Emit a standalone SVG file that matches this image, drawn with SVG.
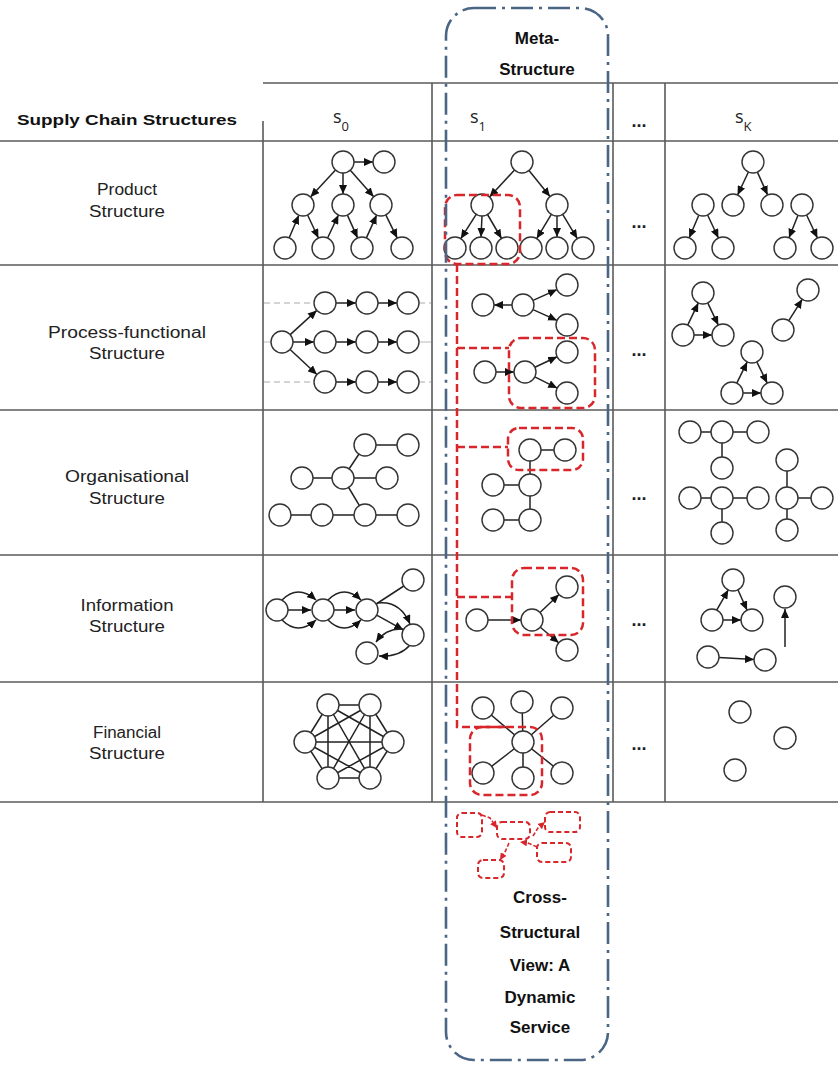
<svg xmlns="http://www.w3.org/2000/svg" width="838" height="1068" viewBox="0 0 838 1068">
<style>
.bg{fill:#fff}
.tl{stroke:#5a5a5a;stroke-width:1.6;fill:none}
.n{fill:#fff;stroke:#333;stroke-width:1.4}
.e{stroke:#222;stroke-width:1.5;fill:none}
.a{stroke:#222;stroke-width:1.5;fill:none;marker-end:url(#ah)}
.r{stroke:#d8262b;stroke-width:2.5;fill:none;stroke-dasharray:8 4}
.rs{stroke:#d8262b;stroke-width:2;fill:none;stroke-dasharray:5 3}
.ra{stroke:#d8262b;stroke-width:1.6;fill:none;stroke-dasharray:4 2;marker-end:url(#rh)}
.gd{stroke:#aaa;stroke-width:1.2;stroke-dasharray:6 4;fill:none}
.gl{stroke:#bbb;stroke-width:1;fill:none}
.meta{stroke:#4b6584;stroke-width:2.6;fill:none;stroke-dasharray:22 6 3 6}
.lbl{font-family:"Liberation Sans",Arial,sans-serif;font-size:16px;fill:#222;text-anchor:middle}
.hd{font-family:"Liberation Sans",Arial,sans-serif;font-weight:bold;font-size:15px;fill:#111}
.bt{font-family:"Liberation Sans",Arial,sans-serif;font-weight:bold;font-size:17px;fill:#111;text-anchor:middle}
.sv{font-family:"Open Sans","Liberation Sans",sans-serif;font-size:18px;fill:#222}
.dots{font-family:"Liberation Sans",Arial,sans-serif;font-weight:bold;font-size:18px;fill:#222;text-anchor:middle}
</style>
<defs>
<marker id="ah" markerUnits="userSpaceOnUse" markerWidth="10" markerHeight="8" refX="9" refY="4" orient="auto"><path d="M0,0 L9,4 L0,8 z" fill="#111"/></marker>
<marker id="rh" markerUnits="userSpaceOnUse" markerWidth="8" markerHeight="7" refX="7" refY="3.5" orient="auto"><path d="M0,0 L7,3.5 L0,7 z" fill="#d8262b"/></marker>
</defs>
<rect class="bg" x="0" y="0" width="838" height="1068"/>

<g id="table">
<line class="tl" x1="263" y1="83" x2="838" y2="83"/>
<line class="tl" x1="0" y1="141" x2="838" y2="141"/>
<line class="tl" x1="0" y1="265" x2="838" y2="265"/>
<line class="tl" x1="0" y1="410" x2="838" y2="410"/>
<line class="tl" x1="0" y1="555" x2="838" y2="555"/>
<line class="tl" x1="0" y1="682" x2="838" y2="682"/>
<line class="tl" x1="0" y1="802" x2="838" y2="802"/>
<line class="tl" x1="263" y1="121" x2="263" y2="802"/>
<line class="tl" x1="432" y1="83" x2="432" y2="802"/>
<line class="tl" x1="613" y1="83" x2="613" y2="802"/>
<line class="tl" x1="665" y1="83" x2="665" y2="802"/>
</g>

<g id="headers">
<text class="hd" x="17" y="125" textLength="220" lengthAdjust="spacingAndGlyphs">Supply Chain  Structures</text>
<text class="sv" x="333" y="123">s<tspan font-size="13" dy="8">0</tspan></text>
<text class="sv" x="470" y="123">s<tspan font-size="13" dy="8">1</tspan></text>
<text class="sv" x="735" y="123">s<tspan font-size="13" dy="8">K</tspan></text>
<text class="dots" x="639" y="127">...</text>
</g>

<g id="row-labels">
<text class="lbl" x="127" y="195" textLength="60" lengthAdjust="spacingAndGlyphs">Product</text>
<text class="lbl" x="127" y="217" textLength="76" lengthAdjust="spacingAndGlyphs">Structure</text>
<text class="lbl" x="127" y="338" textLength="158" lengthAdjust="spacingAndGlyphs">Process-functional</text>
<text class="lbl" x="127" y="359" textLength="76" lengthAdjust="spacingAndGlyphs">Structure</text>
<text class="lbl" x="127" y="482" textLength="124" lengthAdjust="spacingAndGlyphs">Organisational</text>
<text class="lbl" x="127" y="504" textLength="76" lengthAdjust="spacingAndGlyphs">Structure</text>
<text class="lbl" x="127" y="611" textLength="93" lengthAdjust="spacingAndGlyphs">Information</text>
<text class="lbl" x="127" y="632" textLength="76" lengthAdjust="spacingAndGlyphs">Structure</text>
<text class="lbl" x="127" y="738" textLength="68" lengthAdjust="spacingAndGlyphs">Financial</text>
<text class="lbl" x="127" y="759" textLength="76" lengthAdjust="spacingAndGlyphs">Structure</text>
</g>

<g id="ellipses">
<text class="dots" x="639" y="228">...</text>
<text class="dots" x="639" y="356">...</text>
<text class="dots" x="639" y="500">...</text>
<text class="dots" x="639" y="626">...</text>
<text class="dots" x="639" y="750">...</text>
</g>

<g id="connectors">
<!-- row1 s0 -->
<line class="a" x1="354" y1="162" x2="373" y2="162"/>
<line class="a" x1="335.5" y1="170.1" x2="310.5" y2="196.9"/>
<line class="a" x1="343" y1="173" x2="343" y2="194"/>
<line class="a" x1="350.3" y1="170.2" x2="373.7" y2="196.8"/>
<line class="a" x1="289.2" y1="237.8" x2="298.8" y2="215.2"/>
<line class="a" x1="307.6" y1="215" x2="318.4" y2="238"/>
<line class="a" x1="327.6" y1="238" x2="338.4" y2="215"/>
<line class="a" x1="347.4" y1="215.1" x2="357.6" y2="237.9"/>
<line class="a" x1="366.4" y1="237.9" x2="376.6" y2="215.1"/>
<line class="a" x1="385.8" y1="214.9" x2="397.2" y2="238.1"/>
<!-- row1 s1 -->
<line class="a" x1="514.5" y1="170.1" x2="489.5" y2="196.9"/>
<line class="a" x1="529" y1="170.5" x2="550" y2="196.5"/>
<line class="a" x1="476.2" y1="214.3" x2="460.8" y2="238.7"/>
<line class="a" x1="482" y1="216" x2="481" y2="237"/>
<line class="a" x1="487.5" y1="214.5" x2="501.5" y2="238.5"/>
<line class="a" x1="551.3" y1="214.4" x2="536.7" y2="238.6"/>
<line class="a" x1="557" y1="216" x2="557" y2="237"/>
<line class="a" x1="562.7" y1="214.4" x2="577.3" y2="238.6"/>
<!-- row1 sK -->
<line class="a" x1="748.4" y1="172" x2="737.6" y2="195"/>
<line class="a" x1="757.4" y1="172.1" x2="767.6" y2="194.9"/>
<line class="a" x1="698.8" y1="215.2" x2="689.2" y2="237.8"/>
<line class="a" x1="707.6" y1="215" x2="718.4" y2="238"/>
<line class="a" x1="798" y1="215.2" x2="789" y2="237.8"/>
<line class="a" x1="806.6" y1="215" x2="817.4" y2="238"/>
<!-- row2 s0 -->
<line class="gd" x1="264" y1="303" x2="314" y2="303"/>
<line class="gd" x1="419" y1="303" x2="431" y2="303"/>
<line class="gl" x1="264" y1="342" x2="271" y2="342"/>
<line class="gl" x1="419" y1="342" x2="431" y2="342"/>
<line class="gd" x1="264" y1="382" x2="314" y2="382"/>
<line class="gd" x1="419" y1="382" x2="431" y2="382"/>
<line class="a" x1="290.2" y1="334.6" x2="316.8" y2="310.4"/>
<line class="a" x1="293" y1="342" x2="314" y2="342"/>
<line class="a" x1="290.1" y1="349.5" x2="316.9" y2="374.5"/>
<line class="a" x1="336" y1="303" x2="356" y2="303"/>
<line class="a" x1="378" y1="303" x2="397" y2="303"/>
<line class="a" x1="336" y1="342" x2="356" y2="342"/>
<line class="a" x1="378" y1="342" x2="397" y2="342"/>
<line class="a" x1="336" y1="382" x2="356" y2="382"/>
<line class="a" x1="378" y1="382" x2="397" y2="382"/>
<!-- row2 s1 -->
<line class="a" x1="512" y1="305" x2="494" y2="305"/>
<line class="a" x1="533" y1="300.4" x2="557" y2="289.6"/>
<line class="a" x1="533" y1="309.6" x2="557" y2="320.4"/>
<line class="a" x1="496" y1="372" x2="514" y2="372"/>
<line class="a" x1="534.9" y1="367.3" x2="557.1" y2="356.7"/>
<line class="a" x1="534.8" y1="376.9" x2="557.2" y2="388.1"/>
<!-- row2 sK -->
<line class="a" x1="687.7" y1="325.1" x2="698.3" y2="302.9"/>
<line class="a" x1="707.7" y1="302.9" x2="718.3" y2="325.1"/>
<line class="a" x1="694" y1="335" x2="712" y2="335"/>
<line class="a" x1="788.8" y1="320.7" x2="802.2" y2="299.3"/>
<line class="a" x1="736.8" y1="383.1" x2="747.2" y2="361.9"/>
<line class="a" x1="756.8" y1="361.9" x2="767.2" y2="383.1"/>
<line class="a" x1="743" y1="393" x2="761" y2="393"/>
<!-- row3 s0 -->
<line class="e" x1="365" y1="445" x2="408" y2="445"/>
<line class="e" x1="343" y1="478" x2="365" y2="445"/>
<line class="e" x1="302" y1="478" x2="387" y2="478"/>
<line class="e" x1="343" y1="478" x2="365" y2="515"/>
<line class="e" x1="280" y1="515" x2="408" y2="515"/>
<!-- row3 s1 -->
<line class="e" x1="530" y1="450" x2="565" y2="450"/>
<line class="e" x1="530" y1="450" x2="530" y2="520"/>
<line class="e" x1="493" y1="485" x2="530" y2="485"/>
<line class="e" x1="493" y1="520" x2="530" y2="520"/>
<!-- row3 sK -->
<line class="e" x1="690" y1="432" x2="758" y2="432"/>
<line class="e" x1="722" y1="432" x2="722" y2="468"/>
<line class="e" x1="690" y1="498" x2="758" y2="498"/>
<line class="e" x1="722" y1="498" x2="722" y2="533"/>
<line class="e" x1="787" y1="460" x2="787" y2="530"/>
<line class="e" x1="787" y1="498" x2="822" y2="498"/>
<!-- row4 s0 -->
<line class="a" x1="288" y1="610" x2="311" y2="610"/>
<path class="a" d="M282,600 Q298,584 316,600"/>
<path class="a" d="M282,620 Q298,636 316,620"/>
<line class="a" x1="334" y1="610" x2="355" y2="610"/>
<path class="a" d="M328,600 Q344,584 361,600"/>
<path class="a" d="M328,620 Q344,636 361,620"/>
<line class="e" x1="367" y1="610" x2="413" y2="580"/>
<line class="a" x1="376.7" y1="615.2" x2="403.3" y2="629.8"/>
<path class="a" d="M377,603 Q400,600 410,624"/>
<path class="a" d="M403,629 Q386,628 376,642"/>
<path class="a" d="M410,645 Q400,657 379,656"/>
<!-- row4 s1 -->
<line class="a" x1="488" y1="620" x2="521" y2="620"/>
<line class="a" x1="540" y1="612.5" x2="559" y2="594.5"/>
<line class="a" x1="540.3" y1="627.2" x2="558.7" y2="642.8"/>
<!-- row4 sK -->
<line class="a" x1="716.7" y1="610.2" x2="728.3" y2="589.8"/>
<line class="a" x1="737.9" y1="589.8" x2="747.1" y2="610.2"/>
<line class="a" x1="723" y1="620" x2="741" y2="620"/>
<line class="a" x1="785" y1="647" x2="785" y2="609"/>
<line class="a" x1="719" y1="657.5" x2="754" y2="659.5"/>
<!-- row5 s0 (complete graph) -->
<path class="e" d="M328,705 L370,705 M328,705 L305,742 M328,705 L393,742 M328,705 L328,778 M328,705 L370,778 M370,705 L305,742 M370,705 L393,742 M370,705 L328,778 M370,705 L370,778 M305,742 L393,742 M305,742 L328,778 M305,742 L370,778 M393,742 L328,778 M393,742 L370,778 M328,778 L370,778"/>
<!-- row5 s1 -->
<path class="e" d="M523,742 L483,708 M523,742 L522,702 M523,742 L562,708 M523,742 L483,773 M523,742 L523,778 M523,742 L562,773"/>
</g>

<g id="product-s0">
<circle class="n" cx="343" cy="162" r="11"/><circle class="n" cx="384" cy="162" r="11"/>
<circle class="n" cx="303" cy="205" r="11"/><circle class="n" cx="343" cy="205" r="11"/><circle class="n" cx="381" cy="205" r="11"/>
<circle class="n" cx="285" cy="248" r="11"/><circle class="n" cx="323" cy="248" r="11"/><circle class="n" cx="362" cy="248" r="11"/><circle class="n" cx="402" cy="248" r="11"/>
</g>
<g id="product-s1">
<circle class="n" cx="522" cy="162" r="11"/>
<circle class="n" cx="482" cy="205" r="11"/><circle class="n" cx="557" cy="205" r="11"/>
<circle class="n" cx="455" cy="248" r="11"/><circle class="n" cx="481" cy="248" r="11"/><circle class="n" cx="507" cy="248" r="11"/>
<circle class="n" cx="531" cy="248" r="11"/><circle class="n" cx="557" cy="248" r="11"/><circle class="n" cx="583" cy="248" r="11"/>
</g>
<g id="product-sK">
<circle class="n" cx="753" cy="162" r="11"/>
<circle class="n" cx="703" cy="205" r="11"/><circle class="n" cx="733" cy="205" r="11"/><circle class="n" cx="772" cy="205" r="11"/><circle class="n" cx="802" cy="205" r="11"/>
<circle class="n" cx="685" cy="248" r="11"/><circle class="n" cx="723" cy="248" r="11"/><circle class="n" cx="785" cy="248" r="11"/><circle class="n" cx="822" cy="248" r="11"/>
</g>
<g id="process-s0">
<circle class="n" cx="282" cy="342" r="11"/>
<circle class="n" cx="325" cy="303" r="11"/><circle class="n" cx="367" cy="303" r="11"/><circle class="n" cx="408" cy="303" r="11"/>
<circle class="n" cx="325" cy="342" r="11"/><circle class="n" cx="367" cy="342" r="11"/><circle class="n" cx="408" cy="342" r="11"/>
<circle class="n" cx="325" cy="382" r="11"/><circle class="n" cx="367" cy="382" r="11"/><circle class="n" cx="408" cy="382" r="11"/>
</g>
<g id="process-s1">
<circle class="n" cx="483" cy="305" r="11"/><circle class="n" cx="523" cy="305" r="11"/><circle class="n" cx="567" cy="285" r="11"/><circle class="n" cx="567" cy="325" r="11"/>
<circle class="n" cx="485" cy="372" r="11"/><circle class="n" cx="525" cy="372" r="11"/><circle class="n" cx="567" cy="352" r="11"/><circle class="n" cx="567" cy="393" r="11"/>
</g>
<g id="process-sK">
<circle class="n" cx="703" cy="293" r="11"/><circle class="n" cx="683" cy="335" r="11"/><circle class="n" cx="723" cy="335" r="11"/>
<circle class="n" cx="808" cy="290" r="11"/><circle class="n" cx="783" cy="330" r="11"/>
<circle class="n" cx="752" cy="352" r="11"/><circle class="n" cx="732" cy="393" r="11"/><circle class="n" cx="772" cy="393" r="11"/>
</g>
<g id="org-s0">
<circle class="n" cx="365" cy="445" r="11"/><circle class="n" cx="408" cy="445" r="11"/>
<circle class="n" cx="302" cy="478" r="11"/><circle class="n" cx="343" cy="478" r="11"/><circle class="n" cx="387" cy="478" r="11"/>
<circle class="n" cx="280" cy="515" r="11"/><circle class="n" cx="322" cy="515" r="11"/><circle class="n" cx="365" cy="515" r="11"/><circle class="n" cx="408" cy="515" r="11"/>
</g>
<g id="org-s1">
<circle class="n" cx="530" cy="450" r="11"/><circle class="n" cx="565" cy="450" r="11"/>
<circle class="n" cx="493" cy="485" r="11"/><circle class="n" cx="530" cy="485" r="11"/>
<circle class="n" cx="493" cy="520" r="11"/><circle class="n" cx="530" cy="520" r="11"/>
</g>
<g id="org-sK">
<circle class="n" cx="690" cy="432" r="11"/><circle class="n" cx="722" cy="432" r="11"/><circle class="n" cx="758" cy="432" r="11"/><circle class="n" cx="722" cy="468" r="11"/>
<circle class="n" cx="690" cy="498" r="11"/><circle class="n" cx="722" cy="498" r="11"/><circle class="n" cx="758" cy="498" r="11"/><circle class="n" cx="722" cy="533" r="11"/>
<circle class="n" cx="787" cy="460" r="11"/><circle class="n" cx="787" cy="498" r="11"/><circle class="n" cx="822" cy="498" r="11"/><circle class="n" cx="787" cy="530" r="11"/>
</g>
<g id="info-s0">
<circle class="n" cx="277" cy="610" r="11"/><circle class="n" cx="323" cy="610" r="11"/><circle class="n" cx="367" cy="610" r="11"/>
<circle class="n" cx="413" cy="580" r="11"/><circle class="n" cx="413" cy="635" r="11"/><circle class="n" cx="367" cy="653" r="11"/>
</g>
<g id="info-s1">
<circle class="n" cx="477" cy="620" r="11"/><circle class="n" cx="532" cy="620" r="11"/><circle class="n" cx="567" cy="587" r="11"/><circle class="n" cx="567" cy="650" r="11"/>
</g>
<g id="info-sK">
<circle class="n" cx="733" cy="580" r="11"/><circle class="n" cx="712" cy="620" r="11"/><circle class="n" cx="752" cy="620" r="11"/>
<circle class="n" cx="785" cy="597" r="11"/>
<circle class="n" cx="708" cy="657" r="11"/><circle class="n" cx="765" cy="660" r="11"/>
</g>
<g id="fin-s0">
<circle class="n" cx="328" cy="705" r="11"/><circle class="n" cx="370" cy="705" r="11"/>
<circle class="n" cx="305" cy="742" r="11"/><circle class="n" cx="393" cy="742" r="11"/>
<circle class="n" cx="328" cy="778" r="11"/><circle class="n" cx="370" cy="778" r="11"/>
</g>
<g id="fin-s1">
<circle class="n" cx="523" cy="742" r="11"/>
<circle class="n" cx="483" cy="708" r="11"/><circle class="n" cx="522" cy="702" r="11"/><circle class="n" cx="562" cy="708" r="11"/>
<circle class="n" cx="483" cy="773" r="11"/><circle class="n" cx="523" cy="778" r="11"/><circle class="n" cx="562" cy="773" r="11"/>
</g>
<g id="fin-sK">
<circle class="n" cx="740" cy="712" r="11"/><circle class="n" cx="785" cy="738" r="11"/><circle class="n" cx="735" cy="770" r="11"/>
</g>

<g id="cross-structural-links">
<rect class="r" x="445" y="195" width="75" height="69" rx="12"/>
<rect class="r" x="509" y="338" width="86" height="70" rx="12"/>
<rect class="r" x="508" y="428" width="75" height="42" rx="11"/>
<rect class="r" x="512" y="568" width="71" height="67" rx="12"/>
<rect class="r" x="470" y="727" width="72" height="68" rx="12"/>
<path class="r" d="M457,264 L457,727 L505,727"/>
<line class="r" x1="457" y1="348" x2="509" y2="348"/>
<line class="r" x1="457" y1="447" x2="508" y2="447"/>
<line class="r" x1="457" y1="597" x2="512" y2="597"/>
</g>

<g id="dynamic-service">
<rect class="rs" x="457" y="813" width="25" height="24" rx="5"/>
<rect class="rs" x="497" y="822" width="33" height="17" rx="5"/>
<rect class="rs" x="545" y="812" width="35" height="20" rx="5"/>
<rect class="rs" x="537" y="843" width="34" height="19" rx="5"/>
<rect class="rs" x="478" y="860" width="26" height="18" rx="5"/>
<path class="ra" d="M482,815 L490,818 L497,828"/>
<path class="ra" d="M533,836 L538,828 L545,822"/>
<path class="ra" d="M537,847 L528,843 L520,842"/>
<path class="ra" d="M509,843 L505,852 L500,860"/>
</g>

<g id="meta-structure">
<rect class="meta" x="446" y="8" width="162" height="1052" rx="28"/>
<text class="bt" x="537" y="44">Meta-</text>
<text class="bt" x="537" y="75">Structure</text>
<text class="bt" x="540" y="903">Cross-</text>
<text class="bt" x="540" y="938">Structural</text>
<text class="bt" x="540" y="971">View: A</text>
<text class="bt" x="540" y="1003">Dynamic</text>
<text class="bt" x="540" y="1033">Service</text>
</g>
</svg>
